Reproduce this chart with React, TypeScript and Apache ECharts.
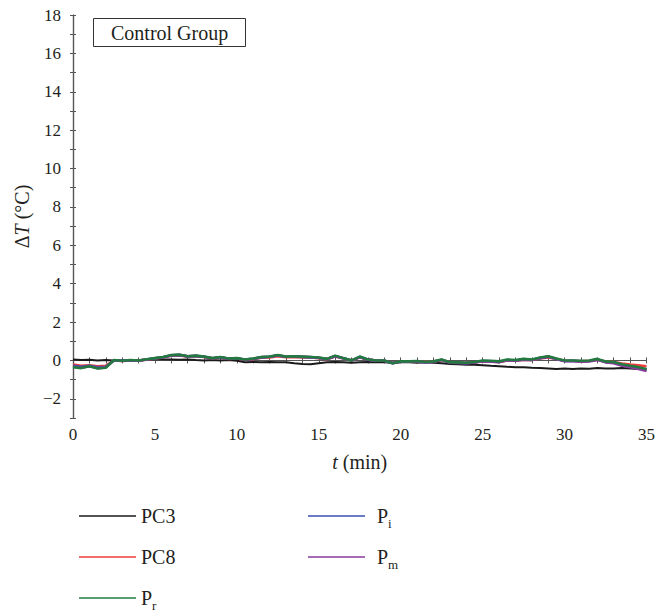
import React, { useEffect, useRef } from "react";
import * as echarts from "echarts";

const T_STEP = 0.5;
const X_TICKS_MAX = 35;

const PC3 = [0.05,0.02,0.03,0.00,0.02,0.00,0.00,0.02,0.00,0.03,
 0.08,0.06,0.05,0.03,0.05,0.02,0.00,0.02,0.00,0.02,
 -0.02,-0.10,-0.08,-0.10,-0.08,-0.10,-0.10,-0.15,-0.18,-0.20,
 -0.15,-0.10,-0.08,-0.10,-0.12,-0.10,-0.08,-0.10,-0.10,-0.12,
 -0.10,-0.10,-0.12,-0.10,-0.12,-0.15,-0.18,-0.20,-0.22,-0.22,
 -0.25,-0.28,-0.30,-0.33,-0.35,-0.35,-0.38,-0.40,-0.42,-0.45,
 -0.42,-0.45,-0.42,-0.43,-0.40,-0.42,-0.42,-0.40,-0.42,-0.45,
 -0.45];

const PC8 = [-0.22,-0.28,-0.25,-0.30,-0.28,0.00,-0.03,0.00,0.00,0.04,
 0.10,0.15,0.24,0.26,0.20,0.22,0.18,0.10,0.15,0.08,
 0.10,0.03,0.07,0.14,0.16,0.22,0.17,0.18,0.16,0.15,
 0.12,0.06,0.20,0.10,0.00,0.16,0.04,0.00,-0.02,-0.12,
 -0.06,-0.04,-0.04,-0.06,-0.06,0.02,-0.10,-0.12,-0.12,-0.10,
 -0.04,-0.05,-0.08,0.00,-0.02,0.04,0.02,0.10,0.16,0.08,
 -0.02,-0.02,-0.04,-0.02,0.04,-0.06,-0.08,-0.16,-0.22,-0.26,
 -0.30];

const PI = [-0.28,-0.33,-0.28,-0.36,-0.33,0.00,-0.02,0.01,0.00,0.05,
 0.11,0.16,0.26,0.28,0.21,0.23,0.19,0.11,0.16,0.09,
 0.11,0.04,0.09,0.16,0.19,0.26,0.19,0.20,0.18,0.16,
 0.13,0.07,0.22,0.11,-0.01,0.18,0.04,-0.01,-0.02,-0.14,
 -0.06,-0.06,-0.05,-0.09,-0.07,0.03,-0.12,-0.12,-0.14,-0.10,
 -0.03,-0.05,-0.08,0.02,0.00,0.05,0.03,0.12,0.19,0.08,
 -0.03,-0.02,-0.05,-0.03,0.05,-0.08,-0.12,-0.24,-0.32,-0.40,
 -0.50];

const PM = [-0.32,-0.38,-0.30,-0.40,-0.36,0.01,-0.03,0.01,-0.01,0.05,
 0.11,0.17,0.27,0.29,0.21,0.24,0.19,0.11,0.17,0.09,
 0.11,0.04,0.09,0.17,0.19,0.27,0.19,0.21,0.19,0.17,
 0.14,0.07,0.23,0.11,-0.01,0.18,0.04,-0.01,-0.02,-0.15,
 -0.07,-0.07,-0.05,-0.10,-0.08,0.03,-0.12,-0.13,-0.15,-0.11,
 -0.04,-0.06,-0.09,0.01,-0.01,0.04,0.02,0.12,0.20,0.07,
 -0.04,-0.04,-0.06,-0.05,0.03,-0.10,-0.15,-0.28,-0.36,-0.45,
 -0.55];

const PR = [-0.35,-0.40,-0.30,-0.42,-0.38,0.02,-0.02,0.02,0.00,0.06,
 0.12,0.18,0.28,0.30,0.22,0.25,0.20,0.12,0.18,0.10,
 0.12,0.05,0.10,0.18,0.20,0.28,0.20,0.22,0.20,0.18,
 0.15,0.08,0.25,0.12,0.00,0.20,0.05,0.00,0.00,-0.15,
 -0.05,-0.05,-0.03,-0.08,-0.05,0.05,-0.10,-0.10,-0.12,-0.08,
 0.00,-0.02,-0.05,0.05,0.02,0.08,0.05,0.15,0.22,0.10,
 0.00,0.00,-0.02,0.00,0.08,-0.05,-0.08,-0.20,-0.28,-0.35,
 -0.45];

const SERIES_NAMES = ["PC3", "PC8", "Pi", "Pm", "Pr"];
const SERIES_VALUES = [PC3, PC8, PI, PM, PR];
const SERIES_COLORS = ["#1a1a1a", "#f03c3c", "#3a50b4", "#8a3a9c", "#237a40"];
const LEGEND_LABELS: Record<string, string> = {
  PC3: "PC3",
  PC8: "PC8",
  Pi: "P{sub|i}",
  Pm: "P{sub|m}",
  Pr: "P{sub|r}",
};

const FONT = "'Liberation Serif', 'DejaVu Serif', serif";
const TEXT = "#231f20";
const AXIS = "#555555";

export default function App() {
  const ref = useRef<HTMLDivElement>(null);
  useEffect(() => {
    if (!ref.current) return;
    const chart = echarts.init(ref.current, undefined, { renderer: "svg" });
    const toPairs = (arr: number[]) => arr.map((v, i) => [i * T_STEP, v]);
    const tickCommon = {
      axisLine: { show: true, lineStyle: { color: AXIS, width: 1.2 } },
      splitLine: { show: false },
    };
    const legendRich = {
      sub: { fontSize: 13, lineHeight: 14, verticalAlign: "bottom", fontFamily: FONT, color: TEXT },
    };
    const legendText = { fontFamily: FONT, fontSize: 20, color: TEXT, lineHeight: 28, rich: legendRich };
    const legendIcon = "path://M0,6L57,6L57,7.4L0,7.4Z";
    const option: any = {
      animation: false,
      backgroundColor: "#ffffff",
      title: {
        text: "Control Group",
        left: 93,
        top: 18,
        padding: [4, 18, 3, 18],
        borderWidth: 1,
        borderColor: "#333",
        textStyle: { fontFamily: FONT, fontSize: 20, fontWeight: "normal", color: TEXT, lineHeight: 22 },
      },
      grid: { left: 73, right: 10, top: 15, bottom: 196, containLabel: false },
      legend: [
        {
          data: ["PC3", "PC8", "Pr"],
          orient: "vertical",
          left: 79,
          top: 502,
          padding: 0,
          height: 112,
          itemWidth: 57,
          itemHeight: 14,
          itemGap: 13,
          icon: legendIcon,
          formatter: (n: string) => LEGEND_LABELS[n],
          textStyle: legendText,
        },
        {
          data: ["Pi", "Pm"],
          orient: "vertical",
          left: 308,
          top: 502,
          padding: 0,
          itemWidth: 57,
          itemHeight: 14,
          itemGap: 13,
          icon: legendIcon,
          formatter: (n: string) => LEGEND_LABELS[n],
          textStyle: { ...legendText, padding: [0, 0, 0, 7] },
        },
      ],
      xAxis: [
        {
          type: "value",
          min: 0,
          max: X_TICKS_MAX,
          interval: 5,
          position: "bottom",
          name: "{i|t} (min)",
          nameLocation: "middle",
          nameGap: 34,
          nameTextStyle: {
            fontFamily: FONT, fontSize: 20, color: TEXT,
            rich: { i: { fontStyle: "italic", fontFamily: FONT, fontSize: 20, color: TEXT } },
          },
          axisTick: { show: true, inside: true, length: 3, lineStyle: { color: AXIS } },
          minorTick: { show: true, splitNumber: 5, length: 3, lineStyle: { color: AXIS } },
          axisLabel: { fontFamily: FONT, fontSize: 17, color: TEXT, margin: 8 },
          ...tickCommon,
        },
        {
          type: "value",
          min: 0,
          max: X_TICKS_MAX,
          interval: 5,
          position: "top",
          axisTick: { show: true, inside: true, length: 3, lineStyle: { color: AXIS } },
          minorTick: { show: true, splitNumber: 5, length: 3, lineStyle: { color: AXIS } },
          axisLabel: { show: false },
          ...tickCommon,
        },
      ],
      yAxis: [
        {
          type: "value",
          min: -3,
          max: 18,
          interval: 1,
          position: "left",
          name: "Δ{i|T} (°C)",
          nameLocation: "middle",
          nameRotate: 90,
          nameGap: 38,
          nameTextStyle: {
            fontFamily: FONT, fontSize: 20, color: TEXT,
            rich: { i: { fontStyle: "italic", fontFamily: FONT, fontSize: 20, color: TEXT } },
          },
          axisTick: { show: true, inside: true, length: 3, lineStyle: { color: AXIS } },
          axisLabel: {
            fontFamily: FONT, fontSize: 17, color: TEXT, margin: 12,
            formatter: (v: number) => (Math.round(v) % 2 === 0 ? String(v).replace("-", "\u2212") : ""),
          },
          ...tickCommon,
        },
        {
          type: "value",
          min: -3,
          max: 18,
          interval: 1,
          position: "right",
          axisTick: { show: true, inside: true, length: 3, lineStyle: { color: AXIS } },
          axisLabel: { show: false },
          ...tickCommon,
        },
      ],
      series: SERIES_NAMES.map((name, k) => ({
        name,
        type: "line",
        xAxisIndex: 0,
        yAxisIndex: 0,
        data: toPairs(SERIES_VALUES[k]),
        showSymbol: false,
        symbol: "none",
        itemStyle: { color: SERIES_COLORS[k] },
        lineStyle: { color: SERIES_COLORS[k], width: k === 0 ? 2 : 2.6 },
      })),
    };
    chart.setOption(option);
    return () => chart.dispose();
  }, []);
  return (
    <div style={{ position: "fixed", left: 0, top: 0, width: 658, height: 614, background: "#fff" }}>
      <div ref={ref} style={{ width: 658, height: 614 }} />
    </div>
  );
}
